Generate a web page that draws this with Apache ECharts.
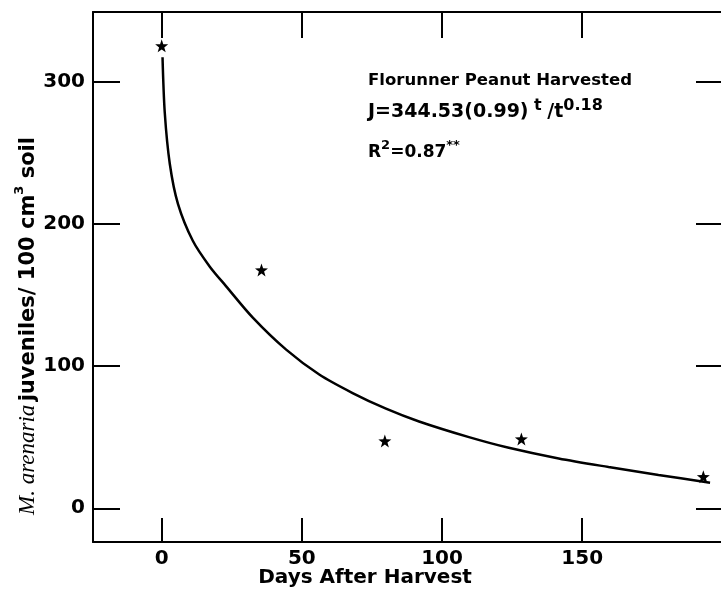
<!DOCTYPE html>
<html>
<head>
<meta charset="utf-8">
<script src="https://cdn.jsdelivr.net/npm/echarts@6/dist/echarts.min.js"></script>
<style>
  html, body { margin: 0; padding: 0; background: #fff; }
  #chart { width: 721px; height: 591px; }
</style>
</head>
<body>
<div id="chart"></div>
<script>
// observed counts (stars)
const obsDays = [0, 35.6, 79.6, 128.3, 193.2]
const obsJuveniles = [325, 167.5, 47.3, 48.7, 22.2]

// fitted curve
const fitDays = [0.3, 1.1, 2.9, 5.8, 11.1, 17.1, 23, 32.5, 44.4, 56.2, 68.1, 80, 91.8, 109.6, 123.8, 141.6, 159.4, 177.2, 195.6]
const fitJuveniles = [317, 278, 242, 214, 188, 170, 156, 134, 111.5, 94, 81, 70, 61, 50, 42.5, 35, 29, 23.4, 18]

const xTicks = [0, 50, 100, 150]
const yTicks = [0, 100, 200, 300]

const FONT = "DejaVu Sans"
const STAR = "path://M0,-10L2.35,-3.24L9.51,-3.09L3.8,1.24L5.88,8.09L0,4L-5.88,8.09L-3.8,1.24L-9.51,-3.09L-2.35,-3.24Z"

const chart = echarts.init(document.getElementById("chart"))

const lineStyle = { color: "#000", width: 2 }

// shared text pieces for the graphic labels
function textStyle (extra) {
  return Object.assign({
    fill: "#000",
    align: "left",
    verticalAlign: "middle",
    textAlign: "left",
    textVerticalAlign: "middle"
  }, extra)
}

const option = {
  animation: false,
  backgroundColor: "#fff",
  grid: { left: 93, right: 0, top: 12, bottom: 49 },
  xAxis: [
    {
      type: "value",
      position: "bottom",
      min: -24.5,
      max: 199.5,
      splitLine: { show: false },
      axisLine: { show: true, onZero: false, lineStyle },
      axisTick: { show: true, inside: true, length: 24, customValues: xTicks, lineStyle },
      axisLabel: {
        customValues: xTicks,
        margin: 7,
        color: "#000",
        fontFamily: FONT,
        fontWeight: "bold",
        fontSize: 20
      }
    },
    {
      type: "value",
      position: "top",
      min: -24.5,
      max: 199.5,
      splitLine: { show: false },
      axisLine: { show: true, onZero: false, lineStyle },
      axisTick: { show: true, inside: true, length: 26, customValues: xTicks, lineStyle },
      axisLabel: { show: false }
    }
  ],
  yAxis: [
    {
      type: "value",
      position: "left",
      min: -23.7,
      max: 348.8,
      splitLine: { show: false },
      axisLine: { show: true, onZero: false, lineStyle },
      axisTick: { show: true, inside: true, length: 27, customValues: yTicks, lineStyle },
      axisLabel: {
        customValues: yTicks,
        margin: 8,
        color: "#000",
        fontFamily: FONT,
        fontWeight: "bold",
        fontSize: 20
      }
    },
    {
      type: "value",
      position: "right",
      min: -23.7,
      max: 348.8,
      splitLine: { show: false },
      axisLine: { show: false, onZero: false },
      axisTick: { show: true, inside: true, length: 25, customValues: yTicks, lineStyle },
      axisLabel: { show: false }
    }
  ],
  series: [
    {
      type: "line",
      data: fitDays.map((d, i) => [d, fitJuveniles[i]]),
      smooth: 0.3,
      showSymbol: false,
      lineStyle: { color: "#000", width: 2.5 },
      z: 2
    },
    {
      type: "scatter",
      data: obsDays.map((d, i) => [d, obsJuveniles[i]]),
      symbol: STAR,
      symbolSize: 13,
      itemStyle: { color: "#000", opacity: 1 },
      z: 3
    }
  ],
  graphic: [
    {
      type: "text",
      x: 365,
      y: 578,
      style: textStyle({
        text: "Days After Harvest",
        font: "bold 20px " + FONT,
        align: "center",
        textAlign: "center"
      })
    },
    {
      type: "text",
      x: 26,
      y: 326,
      rotation: Math.PI / 2,
      style: textStyle({
        text: "{i|M. arenaria} {b|juveniles/ 100 cm}{s|3}{b| soil}",
        align: "center",
        textAlign: "center",
        rich: {
          i: { fontFamily: "Liberation Serif", fontStyle: "italic", fontSize: 23, lineHeight: 26, verticalAlign: "bottom" },
          b: { fontFamily: FONT, fontWeight: "bold", fontSize: 21, lineHeight: 26, verticalAlign: "bottom" },
          s: { fontFamily: FONT, fontWeight: "bold", fontSize: 13, lineHeight: 14, verticalAlign: "top" }
        }
      })
    },
    {
      type: "text",
      x: 368,
      y: 81,
      style: textStyle({
        text: "Florunner Peanut Harvested",
        font: "bold 16.5px " + FONT
      })
    },
    {
      type: "text",
      x: 368,
      y: 110,
      style: textStyle({
        text: "{b|J=344.53(0.99)}{s| t }{b|/}{b|t}{s|0.18}",
        rich: {
          b: { fontFamily: FONT, fontWeight: "bold", fontSize: 19, lineHeight: 24, verticalAlign: "bottom" },
          s: { fontFamily: FONT, fontWeight: "bold", fontSize: 16, lineHeight: 15, verticalAlign: "top" }
        }
      })
    },
    {
      type: "text",
      x: 368,
      y: 150,
      style: textStyle({
        text: "{b|R}{s|2}{b|=0.87}{s|**}",
        rich: {
          b: { fontFamily: FONT, fontWeight: "bold", fontSize: 17, lineHeight: 22, verticalAlign: "bottom" },
          s: { fontFamily: FONT, fontWeight: "bold", fontSize: 13, lineHeight: 12, verticalAlign: "top" }
        }
      })
    }
  ]
}

chart.setOption(option)
</script>
</body>
</html>
